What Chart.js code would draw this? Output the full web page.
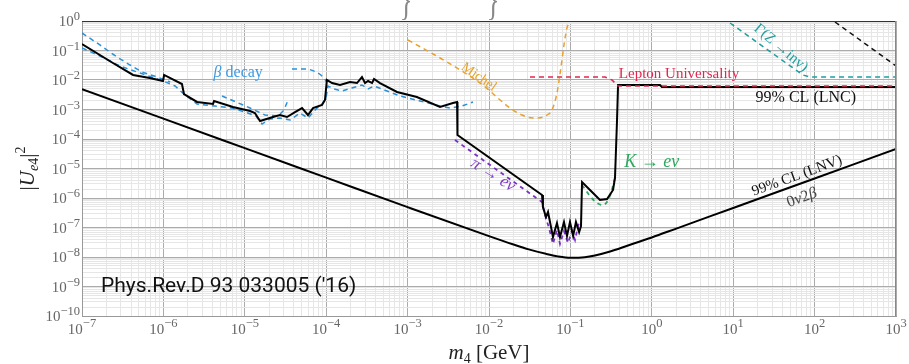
<!DOCTYPE html>
<html>
<head>
<meta charset="utf-8">
<script src="https://cdn.jsdelivr.net/npm/chart.js@4.4.1/dist/chart.umd.min.js"></script>
<style>
  html, body { margin: 0; padding: 0; background: #fff; }
</style>
</head>
<body>
<canvas id="chart" width="909" height="364"></canvas>
<script>
// --- data (mass in GeV, |U_e4|^2) ---

// 99% CL bound, lepton number conserving
const lncMass = [1e-7, 2.4e-7, 4.24e-7, 6.8e-7, 9.9e-7, 1.02e-6, 1.69e-6, 1.79e-6, 2.59e-6, 4.07e-6, 4.19e-6,
  7.16e-6, 1.16e-5, 1.33e-5, 1.54e-5, 2.22e-5, 2.7e-5, 3.3e-5, 4.14e-5, 5.05e-5, 5.97e-5, 6.89e-5, 8.88e-5,
  9.66e-5, 1.02e-4, 1.18e-4, 1.48e-4, 1.96e-4, 2.39e-4, 2.75e-4, 3.0e-4, 3.27e-4, 3.66e-4, 3.87e-4, 4.58e-4,
  7.41e-4, 1.3e-3, 2.5e-3, 3.61e-3, 4.05e-3, 4.1e-3, 0.0448, 0.046, 0.0501, 0.0531, 0.0611, 0.0684, 0.0745,
  0.0834, 0.0908, 0.0988, 0.108, 0.117, 0.128, 0.135, 0.139, 0.174, 0.231, 0.282, 0.334, 0.353, 0.374, 0.385,
  1.26, 1.33, 1000];
const lncBound = [0.166, 0.0377, 0.0148, 0.0117, 0.00925, 0.0148, 0.0073, 0.00335, 0.0018, 0.00154, 0.00194,
  0.00122, 8.9e-4, 7.6e-4, 4.07e-4, 5.57e-4, 6.5e-4, 5.57e-4, 8.2e-4, 1.12e-3, 6.5e-4, 1.12e-3, 1.42e-3,
  2.1e-3, 0.01, 7.9e-3, 6.8e-3, 8.55e-3, 7.9e-3, 0.01264, 7.9e-3, 9.25e-3, 7.9e-3, 0.0108, 7.9e-3,
  3.92e-3, 2.65e-3, 1.22e-3, 1.66e-3, 1.8e-3, 1.37e-4, 1.26e-6, 4.95e-7, 2.27e-7, 3.35e-7, 4.77e-8, 1.42e-7, 4.77e-8,
  1.54e-7, 5.15e-8, 1.54e-7, 5.15e-8, 1.54e-7, 7.0e-8, 1.12e-7, 3.48e-6, 1.87e-6, 8.55e-7, 9.25e-7, 1.87e-6, 4.77e-6, 4.4e-4, 6.78e-3,
  6.78e-3, 5.8e-3, 5.8e-3];

// 99% CL bound, lepton number violating (0nu2beta)
const lnvMass = [1e-7, 1e-6, 1e-5, 1e-4, 1e-3, 1e-2, 2e-2, 3e-2, 5e-2, 7e-2, 0.1, 0.15, 0.2, 0.3, 0.5, 0.7, 1, 2, 3, 10, 100, 1000];
const lnvBound = [4.9e-3, 4.9e-4, 4.9e-5, 4.9e-6, 4.9e-7, 5.1e-8, 2.65e-8, 1.85e-8, 1.28e-8, 1.05e-8, 9.4e-9, 9.8e-9,
  1.12e-8, 1.5e-8, 2.4e-8, 3.3e-8, 4.6e-8, 9.2e-8, 1.38e-7, 4.6e-7, 4.6e-6, 4.6e-5];

// beta decay limits
const betaUpperMass = [1e-7, 1.66e-7, 2.69e-7, 3.89e-7, 5.46e-7, 8.34e-7, 1.21e-6];
const betaUpperBound = [0.392, 0.154, 0.0602, 0.0322, 0.0187, 0.01264, 8.55e-3];
const betaMidMass = [5.25e-6, 7.8e-6, 1.16e-5, 1.77e-5, 2.56e-5, 3.03e-5, 3.4e-5];
const betaMidBound = [2.87e-3, 1.8e-3, 1.12e-3, 6.5e-4, 6.0e-4, 9.6e-4, 2.1e-3];
const betaArcMass = [3.8e-5, 5.5e-5, 7.5e-5, 9.14e-5, 1.02e-4];
const betaArcBound = [0.0236, 0.0236, 0.0187, 0.01264, 8.55e-3];
const betaLowerMass = [1e-7, 1.66e-7, 2.93e-7, 5.16e-7, 9.9e-7, 1.39e-6, 1.84e-6, 2.59e-6, 4.3e-6, 6.97e-6, 1.09e-5,
  1.37e-5, 1.63e-5, 2.04e-5, 2.7e-5, 3.59e-5, 4.76e-5, 5.97e-5, 7.5e-5, 8.88e-5, 9.95e-5, 1.05e-4, 1.25e-4, 1.56e-4,
  2.07e-4, 2.75e-4, 3.27e-4, 3.87e-4, 4.85e-4, 8.07e-4, 1.42e-3, 2.5e-3, 3.32e-3, 4.66e-3, 6.36e-3];
const betaLowerBound = [0.1216, 0.0651, 0.0298, 0.01727, 9.25e-3, 6.26e-3, 3.1e-3, 1.54e-3, 1.31e-3, 1.12e-3, 7.6e-4,
  6.0e-4, 3.22e-4, 4.77e-4, 5.15e-4, 4.4e-4, 7.6e-4, 5.15e-4, 1.04e-3, 1.54e-3, 2.45e-3, 6.26e-3, 4.95e-3, 4.24e-3,
  5.36e-3, 6.78e-3, 4.95e-3, 6.26e-3, 4.95e-3, 2.87e-3, 1.94e-3, 1.31e-3, 1.12e-3, 1.31e-3, 1.8e-3];

// pi -> e nu
const pionMass = [3.82e-3, 0.0448, 0.0488, 0.0546, 0.0611, 0.0684, 0.0745, 0.0834, 0.0933, 0.1047, 0.114, 0.124, 0.131];
const pionBound = [9.25e-5, 7.3e-7, 2.65e-7, 9.6e-8, 2.76e-8, 8.2e-8, 2.76e-8, 7.6e-8, 2.98e-8, 7.6e-8, 3.77e-8, 1.12e-7, 1.8e-7];

// K -> e nu
const kaonMass = [0.139, 0.174, 0.212, 0.251, 0.306, 0.353];
const kaonBound = [2.76e-6, 1.17e-6, 6.8e-7, 5.8e-7, 1.17e-6, 4.77e-6];

// Michel spectrum
const michelMass = [1.01e-3, 3.05e-3, 7.75e-3, 0.0197, 0.0293, 0.0389, 0.0516, 0.0594, 0.0684, 0.0767, 0.0834, 0.0908, 0.0988];
const michelBound = [0.227, 0.0407, 7.9e-3, 9.6e-4, 5.57e-4, 5.15e-4, 6.5e-4, 9.6e-4, 3.62e-3, 0.0276, 0.154, 0.579, 1.0];

// lepton universality
const luMass = [0.0319, 0.266, 0.324, 0.385, 1000];
const luBound = [0.01264, 0.01264, 0.01, 6.26e-3, 6.26e-3];

// invisible Z width
const zinvMass = [9.14, 71.9, 87.7, 1000];
const zinvBound = [0.855, 0.01477, 0.01264, 0.01264];

// top-right dashed bound
const highMass = [178, 893, 1000];
const highBound = [0.925, 0.0377, 0.0298];

// axis ticks
const xTickValues = [1e-7, 1e-6, 1e-5, 1e-4, 1e-3, 1e-2, 1e-1, 1, 10, 100, 1000];
const xTickPowers = ['\u22127', '\u22126', '\u22125', '\u22124', '\u22123', '\u22122', '\u22121', '0', '1', '2', '3'];
const yTickValues = [1e-10, 1e-9, 1e-8, 1e-7, 1e-6, 1e-5, 1e-4, 1e-3, 1e-2, 1e-1, 1];
const yTickPowers = ['\u221210', '\u22129', '\u22128', '\u22127', '\u22126', '\u22125', '\u22124', '\u22123', '\u22122', '\u22121', '0'];

const SERIF = '"Liberation Serif", "DejaVu Serif", serif';

function pts(xs, ys) {
  return xs.map((x, i) => ({ x: x, y: ys[i] }));
}

function curve(xs, ys, color, width, dash, smooth) {
  const ds = {
    data: pts(xs, ys),
    showLine: true,
    borderColor: color,
    borderWidth: width,
    borderDash: dash || [],
    pointRadius: 0,
    fill: false
  };
  if (smooth) ds.cubicInterpolationMode = 'monotone';
  return ds;
}

// 1..9 x 10^n grid positions
function logGrid(decades) {
  const ticks = [];
  for (let i = 0; i < decades.length - 1; i++) {
    for (let k = 1; k < 10; k++) ticks.push({ value: k * decades[i], major: k === 1 });
  }
  ticks.push({ value: decades[decades.length - 1], major: true });
  return ticks;
}

function drawParts(ctx, parts, x, y, align) {
  let w = 0;
  parts.forEach(p => { ctx.font = p[1]; w += ctx.measureText(p[0]).width; });
  let cx = align === 'center' ? x - w / 2 : align === 'right' ? x - w : x;
  parts.forEach(p => {
    ctx.font = p[1];
    ctx.fillText(p[0], cx, y + (p[2] || 0));
    cx += ctx.measureText(p[0]).width;
  });
}

const notes = [
  { parts: [['\u03b2', 'italic 16px ' + SERIF], [' decay', '16px ' + SERIF]], m: 8.3e-6, u: 0.0173, angle: 0, color: '#3d9ae2' },
  { parts: [['Michel', '14px ' + SERIF]], m: 7.5e-3, u: 0.0126, angle: 35, color: '#e8a22c' },
  { parts: [['Lepton Universality', '15px ' + SERIF]], m: 2.16, u: 0.016, angle: 0, color: '#e0284e' },
  { parts: [['99% CL (LNC)', '16px ' + SERIF]], m: 78, u: 2.45e-3, angle: 0, color: '#111' },
  { parts: [['\u0393(Z \u2192inv)', '15px ' + SERIF]], m: 38.6, u: 0.122, angle: 40, color: '#1f9e9e' },
  { parts: [['K', 'italic 18px ' + SERIF], [' \u2192 ', '18px ' + SERIF], ['e\u03bd', 'italic 18px ' + SERIF]], m: 1.0, u: 1.66e-5, angle: 0, color: '#2ea85e' },
  { parts: [['\u03c0', 'italic 17px ' + SERIF], [' \u2192 ', '17px ' + SERIF], ['e\u03bd', 'italic 17px ' + SERIF]], m: 0.0112, u: 6.0e-6, angle: 32, color: '#8040c8' },
  { parts: [['99% CL (LNV)', '15px ' + SERIF]], m: 60.8, u: 5.6e-6, angle: -20, color: '#111' },
  { parts: [['0', '16px ' + SERIF], ['\u03bd', 'italic 16px ' + SERIF], ['2', '16px ' + SERIF], ['\u03b2', 'italic 16px ' + SERIF]], m: 70, u: 1.0e-6, angle: -20, color: '#444' }
];

const textPlugin = {
  id: 'texts',
  afterDraw(chart) {
    const ctx = chart.ctx, a = chart.chartArea;
    const xs = chart.scales.x, ys = chart.scales.y;
    ctx.save();

    // top / right frame
    ctx.lineWidth = 1;
    ctx.strokeStyle = '#333';
    ctx.beginPath(); ctx.moveTo(a.left, a.top + 0.5); ctx.lineTo(a.right, a.top + 0.5); ctx.stroke();
    ctx.strokeStyle = '#888';
    ctx.beginPath(); ctx.moveTo(a.right - 0.5, a.top); ctx.lineTo(a.right - 0.5, a.bottom); ctx.stroke();

    // braces cut off above the frame
    ctx.save();
    ctx.beginPath(); ctx.rect(0, 0, chart.width, a.top); ctx.clip();
    ctx.fillStyle = '#888';
    ctx.font = '44px ' + SERIF;
    ctx.textAlign = 'center';
    ctx.textBaseline = 'middle';
    [406, 493].forEach(bx => {
      ctx.save();
      ctx.translate(bx, 2);
      ctx.scale(0.6, 1);
      ctx.fillText('}', 0, 0);
      ctx.restore();
    });
    ctx.restore();

    // tick labels
    ctx.fillStyle = '#666';
    ctx.textBaseline = 'alphabetic';
    ctx.textAlign = 'left';
    xTickValues.forEach((v, i) => {
      drawParts(ctx, [['10', '15px ' + SERIF, 0], [xTickPowers[i], '12.5px ' + SERIF, -7]],
        xs.getPixelForValue(v), a.bottom + 18, 'center');
    });
    yTickValues.forEach((v, i) => {
      drawParts(ctx, [['10', '15px ' + SERIF, 0], [yTickPowers[i], '12.5px ' + SERIF, -6]],
        a.left - 2, ys.getPixelForValue(v) + 5, 'right');
    });

    // axis titles
    ctx.fillStyle = '#222';
    drawParts(ctx, [['m', 'italic 21px ' + SERIF, 0], ['4', '14px ' + SERIF, 4], [' [GeV]', '21px ' + SERIF, 0]],
      (a.left + a.right) / 2, 359, 'center');
    ctx.save();
    ctx.translate(34, (a.top + a.bottom) / 2);
    ctx.rotate(-Math.PI / 2);
    drawParts(ctx, [['|', '21px ' + SERIF, 0], ['U', 'italic 21px ' + SERIF, 0], ['e', 'italic 14px ' + SERIF, 4],
      ['4', '14px ' + SERIF, 4], ['|', '21px ' + SERIF, 0], ['2', '14px ' + SERIF, -9]], 0, 0, 'center');
    ctx.restore();

    // curve labels
    ctx.textBaseline = 'middle';
    notes.forEach(n => {
      ctx.save();
      ctx.translate(xs.getPixelForValue(n.m), ys.getPixelForValue(n.u));
      ctx.rotate(n.angle * Math.PI / 180);
      ctx.fillStyle = n.color;
      drawParts(ctx, n.parts, 0, 0, 'center');
      ctx.restore();
    });

    // reference
    ctx.fillStyle = '#111';
    ctx.textBaseline = 'alphabetic';
    ctx.font = '21px Roboto';
    ctx.fillText("Phys.Rev.D 93 033005 ('16)", 101, 292);

    ctx.restore();
  }
};

function axis(decades, fitKey, fitSize) {
  return {
    type: 'logarithmic',
    min: decades[0],
    max: decades[decades.length - 1],
    afterBuildTicks: scale => { scale.ticks = logGrid(decades); },
    afterFit: scale => { scale[fitKey] = fitSize; },
    ticks: { display: false, autoSkip: false },
    grid: {
      drawTicks: false,
      color: c => (c.tick && c.tick.major) ? '#ababab' : '#e6e6e6',
      lineWidth: 1
    },
    border: { color: '#999', width: 1 }
  };
}

new Chart(document.getElementById('chart'), {
  type: 'scatter',
  data: {
    datasets: [
      curve(luMass, luBound, '#e0284e', 1.5, [5, 4]),
      curve(lncMass, lncBound, '#000', 2),
      curve(lnvMass, lnvBound, '#000', 2, [], true),
      curve(pionMass, pionBound, '#7a30c8', 1.8, [4, 4]),
      curve(kaonMass, kaonBound, '#2ea85e', 1.8, [4, 4], true),
      curve(betaLowerMass, betaLowerBound, '#2a90d8', 1.5, [5, 4]),
      curve(betaUpperMass, betaUpperBound, '#2a90d8', 1.5, [5, 4]),
      curve(betaMidMass, betaMidBound, '#2a90d8', 1.5, [5, 4]),
      curve(betaArcMass, betaArcBound, '#2a90d8', 1.5, [5, 4], true),
      curve(michelMass, michelBound, '#e8a22c', 1.5, [5, 4], true),
      curve(zinvMass, zinvBound, '#1f9e9e', 1.5, [5, 4]),
      curve(highMass, highBound, '#111', 1.5, [5, 4])
    ]
  },
  options: {
    responsive: false,
    animation: false,
    layout: { padding: { left: 0, top: 21, right: 13, bottom: 0 } },
    plugins: { legend: { display: false }, tooltip: { enabled: false } },
    scales: {
      x: axis(xTickValues, 'height', 48),
      y: axis(yTickValues, 'width', 82)
    }
  },
  plugins: [textPlugin]
});
</script>
</body>
</html>
